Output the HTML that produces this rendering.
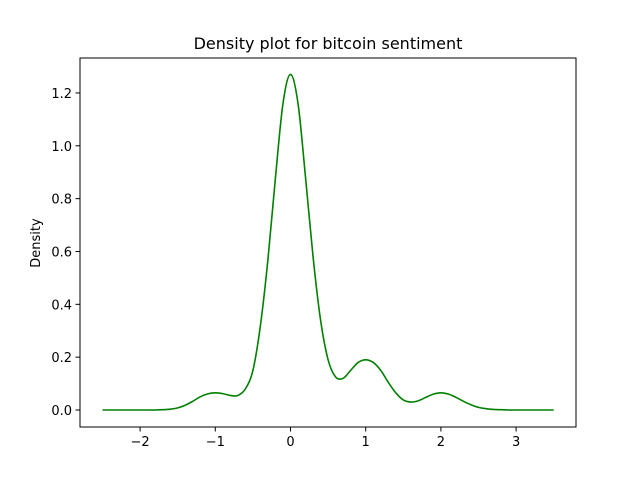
<!DOCTYPE html>
<html><head><meta charset="utf-8"><style>
body{margin:0;background:#fff;font-family:"Liberation Sans","DejaVu Sans",sans-serif;}
</style></head><body>
<svg id="chart" width="640" height="480" xmlns="http://www.w3.org/2000/svg">
<rect width="640" height="480" fill="#fff"/>
<text x="328" y="49" text-anchor="middle" font-size="16" font-family="DejaVu Sans, Liberation Sans, sans-serif">Density plot for bitcoin sentiment</text>
<text transform="translate(40,243) rotate(-90)" text-anchor="middle" font-size="13" font-family="DejaVu Sans, Liberation Sans, sans-serif">Density</text>
<g id="ticks"></g>
<path id="curve" fill="none" stroke="#008000" stroke-width="1.6"/>
<rect x="80" y="58" width="496" height="369" fill="none" stroke="#000" stroke-width="1"/>
</svg>
<script>
const xStart = -2.5;
const xStep = 0.1;
const densityValues = [0,0,0,0,0,0,0,0,0.001,0.003,
0.008,0.018,0.033,0.05,0.061,0.065,0.062,0.055,0.055,0.08,
0.15,0.32,0.57,0.88,1.16,1.27,1.16,0.88,0.58,0.34,
0.19,0.125,0.12,0.15,0.18,0.19,0.18,0.15,0.105,0.065,
0.038,0.03,0.035,0.048,0.06,0.065,0.06,0.048,0.033,0.02,
0.01,0.005,0.002,0.001,0,0,0,0,0,0,0];
const xTicks = [-2,-1,0,1,2,3];
const xTickLabels = ["−2","−1","0","1","2","3"];
const yTicks = [0,0.2,0.4,0.6,0.8,1.0,1.2];
const yTickLabels = ["0.0","0.2","0.4","0.6","0.8","1.0","1.2"];
const sx = v => 290.5 + v*75.2;
const sy = v => 410 - v*264.2;
const NS="http://www.w3.org/2000/svg";
const g=document.getElementById('ticks');
xTicks.forEach((t,i)=>{
  const l=document.createElementNS(NS,'line');
  
  
  l.setAttribute('x1',sx(t));l.setAttribute('x2',sx(t));l.setAttribute('y1',427);l.setAttribute('y2',431.5);l.setAttribute('stroke','#000');
  g.appendChild(l);
  const tx=document.createElementNS(NS,'text');
  
  
  tx.setAttribute('x',sx(t));tx.setAttribute('y',446);tx.setAttribute('text-anchor','middle');tx.setAttribute('font-size','13');tx.setAttribute('font-family','DejaVu Sans, Liberation Sans, sans-serif');
  tx.textContent=xTickLabels[i];g.appendChild(tx);
});
yTicks.forEach((t,i)=>{
  const l=document.createElementNS(NS,'line');
  
  
  l.setAttribute('x1',75.5);l.setAttribute('x2',80);l.setAttribute('y1',sy(t));l.setAttribute('y2',sy(t));l.setAttribute('stroke','#000');
  g.appendChild(l);
  const tx=document.createElementNS(NS,'text');
  
  
  tx.setAttribute('x',72);tx.setAttribute('y',sy(t)+5);tx.setAttribute('text-anchor','end');tx.setAttribute('font-size','13');tx.setAttribute('font-family','DejaVu Sans, Liberation Sans, sans-serif');
  tx.textContent=yTickLabels[i];g.appendChild(tx);
});
const pts=densityValues.map((v,i)=>[sx(xStart+i*xStep),sy(v)]);
let d='M'+pts[0][0]+','+pts[0][1];
for(let i=0;i<pts.length-1;i++){
  const p0=pts[Math.max(0,i-1)],p1=pts[i],p2=pts[i+1],p3=pts[Math.min(pts.length-1,i+2)];
  const c1=[p1[0]+(p2[0]-p0[0])/6,p1[1]+(p2[1]-p0[1])/6];
  const c2=[p2[0]-(p3[0]-p1[0])/6,p2[1]-(p3[1]-p1[1])/6];
  d+=' C'+c1[0]+','+c1[1]+' '+c2[0]+','+c2[1]+' '+p2[0]+','+p2[1];
}
document.getElementById('curve').setAttribute('d',d);
</script>
</body></html>
